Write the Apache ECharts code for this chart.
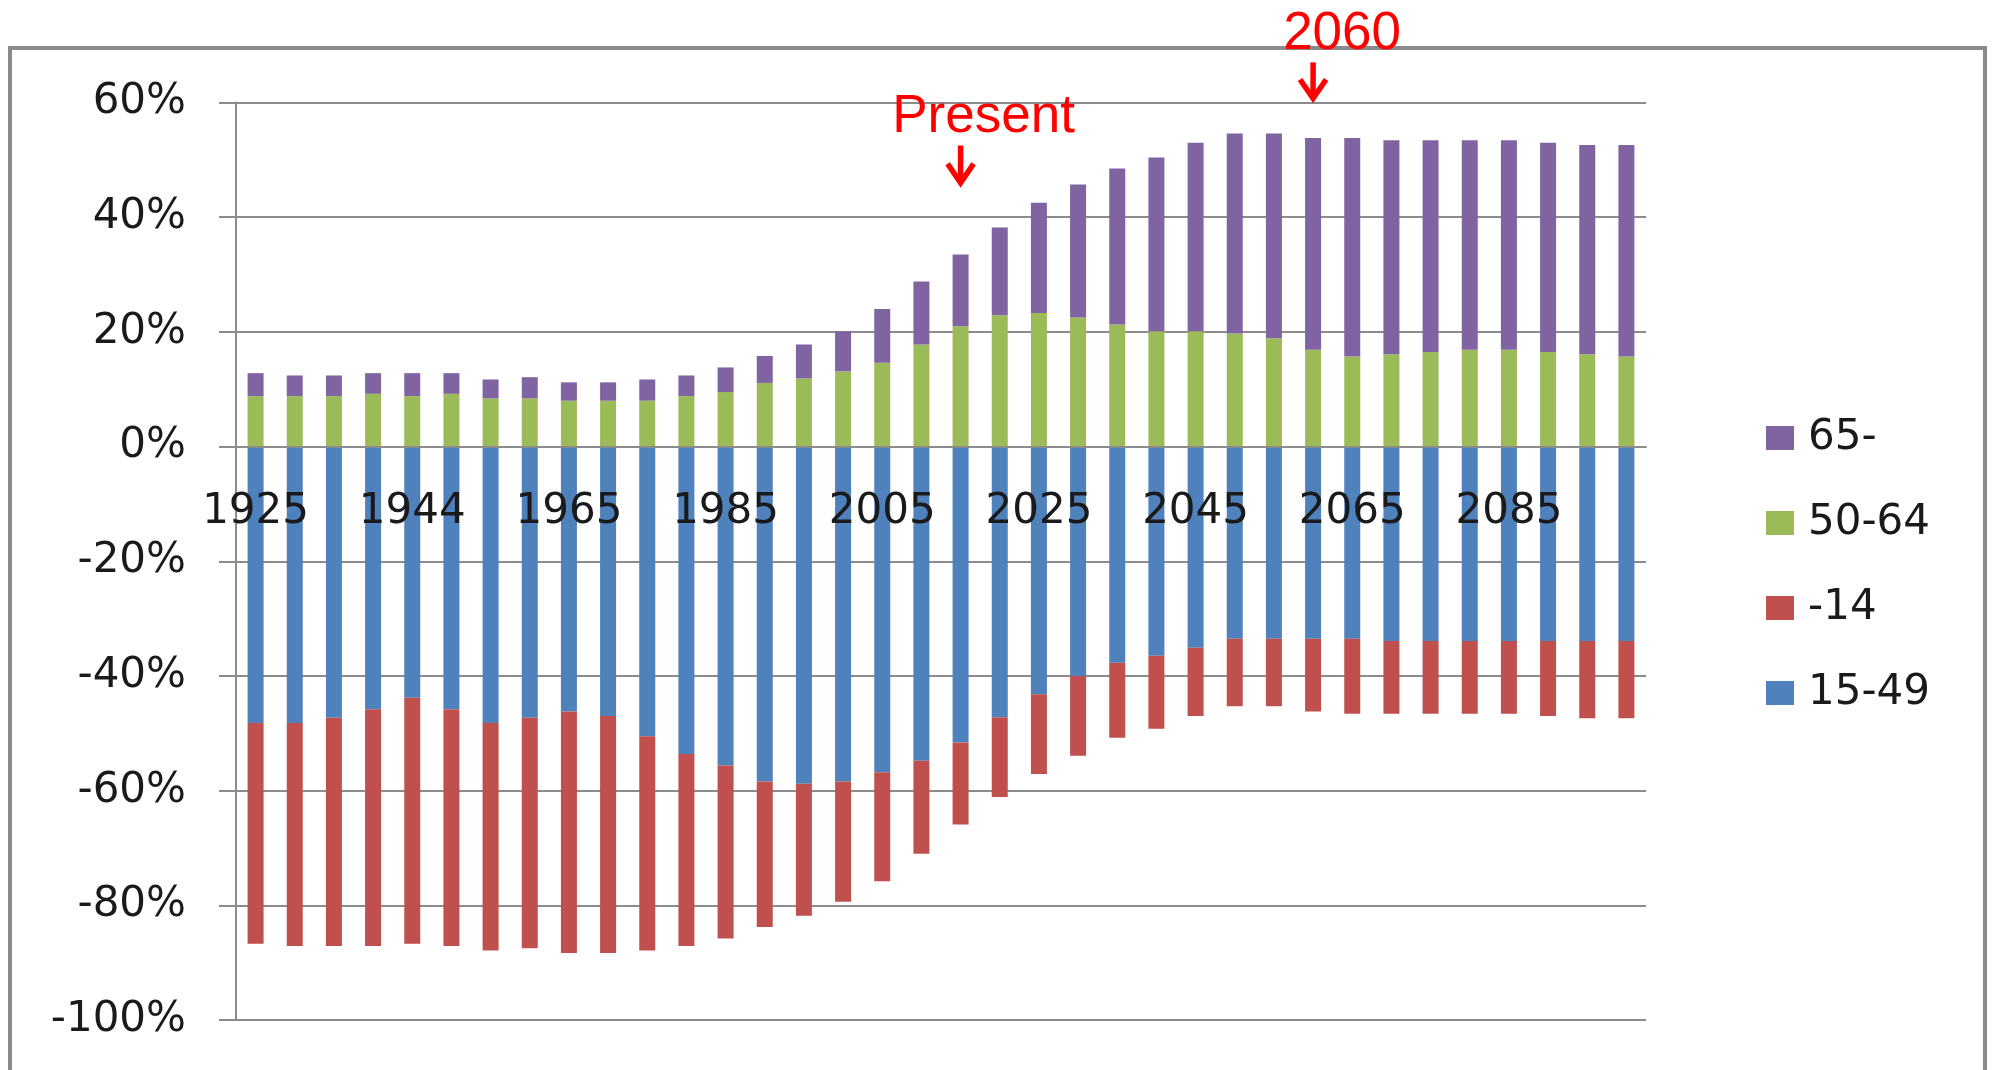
<!DOCTYPE html>
<html>
<head>
<meta charset="utf-8">
<script src="https://cdn.jsdelivr.net/npm/echarts@6/dist/echarts.min.js"></script>
<style>
  html, body { margin: 0; padding: 0; background: #fff; }
  #chart { width: 1992px; height: 1070px; }
</style>
</head>
<body>
<div id="chart"></div>
<script>
// year of each bar (1944 census point is in the source)
const years = [1925, 1930, 1935, 1940, 1944, 1950, 1955, 1960, 1965, 1970, 1975, 1980,
  1985, 1990, 1995, 2000, 2005, 2010, 2015, 2020, 2025, 2030, 2035, 2040,
  2045, 2050, 2055, 2060, 2065, 2070, 2075, 2080, 2085, 2090, 2095, 2100]

// share of each age band in %, working age and children drawn below zero
const age50to64 = [8.8, 8.8, 8.8, 9.2, 8.8, 9.2, 8.4, 8.4, 8.0, 8.0, 8.0, 8.8,
  9.5, 11.1, 11.9, 13.1, 14.6, 17.8, 21.0, 22.9, 23.3, 22.5, 21.3, 20.1,
  20.1, 19.7, 18.9, 16.9, 15.7, 16.1, 16.5, 16.9, 16.9, 16.5, 16.1, 15.7]
const age65up = [4.0, 3.6, 3.6, 3.6, 4.0, 3.6, 3.3, 3.7, 3.2, 3.2, 3.7, 3.6,
  4.3, 4.7, 5.9, 7.0, 9.4, 11.0, 12.5, 15.3, 19.2, 23.2, 27.2, 30.3,
  32.9, 34.9, 35.7, 36.9, 38.1, 37.3, 36.9, 36.5, 36.5, 36.5, 36.5, 36.9]
const age15to49 = [-48.2, -48.2, -47.3, -45.8, -43.8, -45.8, -48.2, -47.3, -46.2, -47.0, -50.5, -53.6,
  -55.6, -58.4, -58.8, -58.4, -56.8, -54.8, -51.6, -47.2, -43.2, -40.0, -37.7, -36.5,
  -35.1, -33.5, -33.5, -33.5, -33.5, -33.9, -33.9, -33.9, -33.9, -33.9, -33.9, -33.9]
const age0to14 = [-38.5, -38.9, -39.8, -41.3, -42.9, -41.3, -39.7, -40.2, -42.1, -41.3, -37.4, -33.5,
  -30.2, -25.4, -23.0, -21.0, -19.0, -16.2, -14.3, -13.9, -13.9, -13.9, -13.1, -12.7,
  -11.9, -11.8, -11.8, -12.7, -13.1, -12.7, -12.7, -12.7, -12.7, -13.1, -13.5, -13.5]

const legendOrder = ['65-', '50-64', '-14', '15-49']

const GRID = '#8c8c8c'
const INK = '#1a1a1a'
const AXIS_FONT = 'DejaVu Sans'

const chart = echarts.init(document.getElementById('chart'))

function bar(name, data, color) {
  return {
    name,
    type: 'bar',
    stack: 'share',
    barWidth: 16,
    data,
    itemStyle: { color },
  }
}

chart.setOption({
  animation: false,
  backgroundColor: '#fff',
  grid: {
    left: 236, right: 346, top: 102.5, bottom: 50,
    containLabel: false,
    outerBoundsMode: 'none',
  },
  legend: {
    orient: 'vertical',
    left: 1761,
    top: 412,
    icon: 'rect',
    itemWidth: 28,
    itemHeight: 24,
    itemGap: 43,
    data: legendOrder,
    textStyle: { fontFamily: AXIS_FONT, fontSize: 42, color: INK, padding: [0, 0, 0, 9] },
  },
  xAxis: {
    type: 'category',
    data: years,
    z: 5,
    axisLine: { onZero: false, lineStyle: { color: GRID, width: 2 } },
    axisTick: { interval: 3, length: 17, lineStyle: { color: GRID, width: 2 } },
    axisLabel: {
      interval: 3,
      margin: 45,
      fontFamily: AXIS_FONT,
      fontSize: 42,
      color: INK,
    },
  },
  yAxis: {
    type: 'value',
    min: -100,
    max: 60,
    interval: 20,
    axisLine: { show: true, lineStyle: { color: GRID, width: 2 } },
    axisTick: { show: true, length: 17, lineStyle: { color: GRID, width: 2 } },
    splitLine: { lineStyle: { color: GRID, width: 2 } },
    axisLabel: {
      margin: 50,
      fontFamily: AXIS_FONT,
      fontSize: 42,
      color: INK,
      formatter: '{value}%',
    },
  },
  series: [
    bar('15-49', age15to49, '#4f81bd'),
    bar('-14', age0to14, '#c0504d'),
    bar('50-64', age50to64, '#9bbb59'),
    bar('65-', age65up, '#8064a2'),
  ],
})

// the category axis crosses at 0%: lift it from the grid bottom to the zero line
const yZero = chart.convertToPixel({ yAxisIndex: 0 }, 0)
const yFloor = chart.convertToPixel({ yAxisIndex: 0 }, -100)
chart.setOption({ xAxis: { offset: yZero - yFloor } })

// red call-outs, placed through the chart's own scales
const notes = [
  { year: 2015, text: 'Present', tip: 46, tail: 52.5, label: 57.4, dx: 23 },
  { year: 2060, text: '2060', tip: 60.7, tail: 67, label: 71.9, dx: 29 },
]

function noteGraphic(n) {
  const cat = String(n.year)
  const [x, yTip] = chart.convertToPixel({ xAxisIndex: 0, yAxisIndex: 0 }, [cat, n.tip])
  const yTail = chart.convertToPixel({ yAxisIndex: 0 }, n.tail)
  const yText = chart.convertToPixel({ yAxisIndex: 0 }, n.label)
  const red = '#ff0000'
  return [
    {
      type: 'line',
      shape: { x1: x, y1: yTail, x2: x, y2: yTip - 3 },
      style: { stroke: red, lineWidth: 5.5 },
      z: 10,
    },
    {
      type: 'polyline',
      shape: { points: [[x - 13, yTip - 19], [x, yTip], [x + 13, yTip - 19]] },
      style: { stroke: red, lineWidth: 5.5, fill: null, lineJoin: 'miter' },
      z: 10,
    },
    {
      type: 'text',
      z: 10,
      style: {
        text: n.text,
        x: x + n.dx,
        y: yText,
        align: 'center',
        verticalAlign: 'middle',
        fill: red,
        font: '53px "Liberation Sans", Arial, sans-serif',
      },
    },
  ]
}

chart.setOption({
  graphic: [
    {
      type: 'rect',
      shape: { x: 10, y: 48, width: 1975, height: 1100 },
      style: { stroke: '#8a8a8a', lineWidth: 4, fill: null },
      z: 0,
    },
    ...notes.flatMap(noteGraphic),
  ],
})
</script>
</body>
</html>
